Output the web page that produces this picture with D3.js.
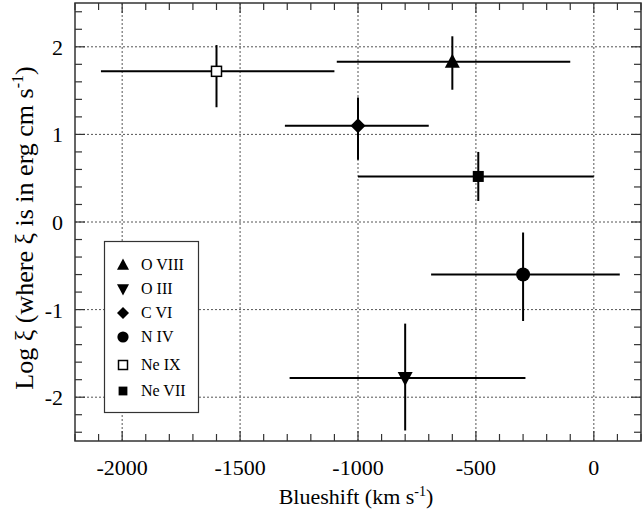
<!DOCTYPE html>
<html>
<head>
<meta charset="utf-8">
<script src="https://cdn.jsdelivr.net/npm/d3@7"></script>
<style>
  body { margin: 0; background: #fff; }
</style>
</head>
<body>
<script>
// ions, in legend order
const ions = ["O VIII", "O III", "C VI", "N IV", "Ne IX", "Ne VII"];
const shapes = ["triangleUp", "triangleDown", "diamond", "circle", "openSquare", "square"];
// blueshift (km/s) with error range
const shift = [-600, -800, -1000, -300, -1600, -490];
const shiftLo = [-1090, -1290, -1310, -690, -2090, -1000];
const shiftHi = [-100, -290, -700, 110, -1100, 0];
// log xi with error range
const logXi = [1.83, -1.78, 1.1, -0.6, 1.72, 0.52];
const logXiLo = [1.51, -2.38, 0.71, -1.13, 1.31, 0.24];
const logXiHi = [2.12, -1.16, 1.42, -0.12, 2.02, 0.8];

const xTicks = [-2000, -1500, -1000, -500, 0];
const yTicks = [-2, -1, 0, 1, 2];

const W = 642, H = 513;
const pL = 75, pR = 641, pT = 3, pB = 441;
const FONT = "Liberation Serif";

const svg = d3.select("body").append("svg").attr("width", W).attr("height", H);

const x = d3.scaleLinear().domain([-2200, 200]).range([pL, pR]);
const y = d3.scaleLinear().domain([-2.5, 2.5]).range([pB, pT]);

// grid
const grid = svg.append("g").attr("stroke", "#555").attr("stroke-width", 1).attr("stroke-dasharray", "2,2");
xTicks.forEach(t => grid.append("line").attr("x1", x(t)).attr("x2", x(t)).attr("y1", pT).attr("y2", pB));
yTicks.forEach(t => grid.append("line").attr("x1", pL).attr("x2", pR).attr("y1", y(t)).attr("y2", y(t)));

// ticks, all pointing inward
const minorX = d3.range(-2200, 201, 100);
const minorY = d3.range(-2.4, 2.41, 0.2);
const tk = svg.append("g").attr("stroke", "#333").attr("stroke-width", 1.2);
minorX.forEach(t => {
  const major = xTicks.includes(Math.round(t));
  const len = major ? 10 : 7;
  tk.append("line").attr("x1", x(t)).attr("x2", x(t)).attr("y1", pB).attr("y2", pB - len);
  tk.append("line").attr("x1", x(t)).attr("x2", x(t)).attr("y1", pT).attr("y2", pT + len);
});
minorY.forEach(t => {
  const major = Math.abs(t - Math.round(t)) < 1e-6;
  const len = major ? 10 : 7;
  tk.append("line").attr("x1", pL).attr("x2", pL + len).attr("y1", y(t)).attr("y2", y(t));
  tk.append("line").attr("x1", pR).attr("x2", pR - len).attr("y1", y(t)).attr("y2", y(t));
});

// frame
svg.append("rect").attr("x", pL).attr("y", pT).attr("width", pR - pL).attr("height", pB - pT)
  .attr("fill", "none").attr("stroke", "#333").attr("stroke-width", 1.5);

// tick labels
svg.append("g").selectAll("text").data(xTicks).join("text")
  .attr("x", d => x(d)).attr("y", 475).attr("text-anchor", "middle")
  .style("font-family", FONT).attr("font-size", 22).text(d => d);
svg.append("g").selectAll("text").data(yTicks).join("text")
  .attr("x", 63).attr("y", d => y(d) + 8).attr("text-anchor", "end")
  .style("font-family", FONT).attr("font-size", 22).text(d => d);

// axis titles
const xt = svg.append("text").attr("x", 356).attr("y", 504).attr("text-anchor", "middle")
  .style("font-family", FONT).attr("font-size", 22);
xt.append("tspan").text("Blueshift (km s");
xt.append("tspan").attr("font-size", 14).attr("dy", -8).text("-1");
xt.append("tspan").attr("dy", 8).text(")");

const yt = svg.append("text").attr("transform", "translate(33,228) rotate(-90)")
  .attr("text-anchor", "middle").style("font-family", FONT).attr("font-size", 26);
yt.append("tspan").text("Log ξ (where ξ is in erg cm s");
yt.append("tspan").attr("font-size", 16).attr("dy", -10).text("-1");
yt.append("tspan").attr("dy", 10).text(")");

// symbol drawing
function marker(g, shape, cx, cy, s) {
  s = s || 1;
  if (shape === "triangleUp") {
    g.append("path").attr("d", `M${cx},${cy - 8 * s} L${cx + 7.5 * s},${cy + 6 * s} L${cx - 7.5 * s},${cy + 6 * s} Z`).attr("fill", "#000");
  } else if (shape === "triangleDown") {
    g.append("path").attr("d", `M${cx},${cy + 8 * s} L${cx + 7.5 * s},${cy - 6 * s} L${cx - 7.5 * s},${cy - 6 * s} Z`).attr("fill", "#000");
  } else if (shape === "diamond") {
    g.append("path").attr("d", `M${cx},${cy - 7.5 * s} L${cx + 7.5 * s},${cy} L${cx},${cy + 7.5 * s} L${cx - 7.5 * s},${cy} Z`).attr("fill", "#000");
  } else if (shape === "circle") {
    g.append("circle").attr("cx", cx).attr("cy", cy).attr("r", 7 * s).attr("fill", "#000");
  } else if (shape === "openSquare") {
    g.append("rect").attr("x", cx - 5 * s).attr("y", cy - 5 * s).attr("width", 10 * s).attr("height", 10 * s)
      .attr("fill", "#fff").attr("stroke", "#000").attr("stroke-width", 1.5);
  } else {
    g.append("rect").attr("x", cx - 5.5 * s).attr("y", cy - 5.5 * s).attr("width", 11 * s).attr("height", 11 * s).attr("fill", "#000");
  }
}

// error bars and points
const pts = svg.append("g");
ions.forEach((ion, i) => {
  pts.append("line").attr("x1", x(shiftLo[i])).attr("x2", x(shiftHi[i]))
    .attr("y1", y(logXi[i])).attr("y2", y(logXi[i])).attr("stroke", "#000").attr("stroke-width", 2);
  pts.append("line").attr("x1", x(shift[i])).attr("x2", x(shift[i]))
    .attr("y1", y(logXiLo[i])).attr("y2", y(logXiHi[i])).attr("stroke", "#000").attr("stroke-width", 2);
});
ions.forEach((ion, i) => marker(pts, shapes[i], x(shift[i]), y(logXi[i])));

// legend
const lg = svg.append("g");
lg.append("rect").attr("x", 104.5).attr("y", 241.5).attr("width", 94).attr("height", 171)
  .attr("fill", "#fff").attr("stroke", "#333").attr("stroke-width", 1.2);
const legY = [265, 289, 313, 337, 365, 391];
ions.forEach((ion, i) => {
  marker(lg, shapes[i], 123, legY[i], i === 4 ? 0.9 : 0.8);
  lg.append("text").attr("x", 141).attr("y", legY[i] + 5).style("font-family", FONT)
    .attr("font-size", 16).text(ion);
});
</script>
</body>
</html>
